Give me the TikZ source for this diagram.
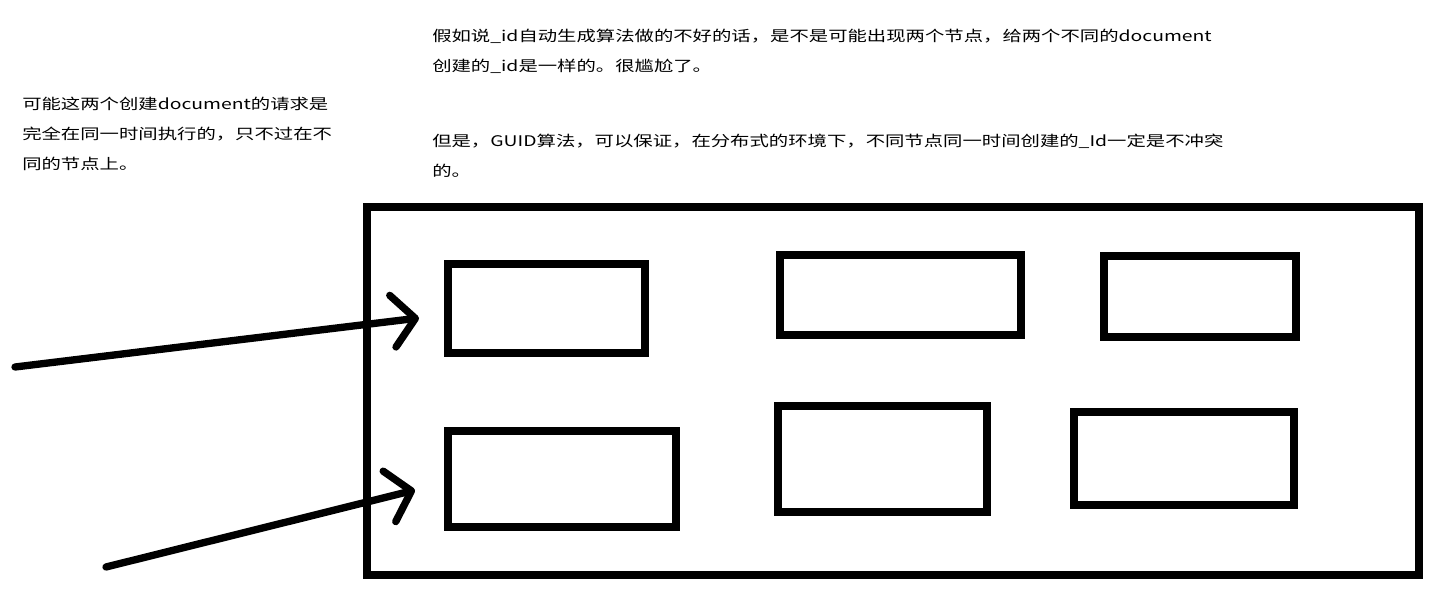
\documentclass[tikz,border=0pt]{standalone}
\usepackage{fontspec}
\setmainfont[FakeStretch=1.32]{Noto Sans CJK SC}
\usetikzlibrary{arrows.meta}
\tikzset{
	cluster/.style={
		draw
		,line width=6pt
		,inner sep=0pt
		,outer sep=0pt
	}
	,shard/.style={
		cluster
	}
	,note/.style={
		anchor=base west
		,inner sep=0pt
		,font=\fontsize{11pt}{22.5pt}\selectfont
	}
	,request/.style={
		line width=5.5pt
		,line cap=round
		,-{Straight Barb[round, length=17pt, width=39pt]}
	}
}

\begin{document}
\begin{tikzpicture}[x=0.75pt, y=-0.75pt]
\useasboundingbox (0,0) rectangle (1439,597);
% text
\node[note] (why1) at (22,109) {可能这两个创建document的请求是};
\node[note] (why2) at (22,139) {完全在同一时间执行的，只不过在不};
\node[note] (why3) at (22,169) {同的节点上。};
\node[note] (bad1) at (432,41) {假如说\_id自动生成算法做的不好的话，是不是可能出现两个节点，给两个不同的document};
\node[note] (bad2) at (432,71) {创建的\_id是一样的。很尴尬了。};
\node[note] (guid1) at (432,146) {但是，GUID算法，可以保证，在分布式的环境下，不同节点同一时间创建的\_Id一定是不冲突};
\node[note] (guid2) at (432,176) {的。};
% cluster and nodes
\node[cluster, minimum width=789pt, minimum height=276pt] (es) at (893,391) {};
\node[shard, minimum width=147.75pt, minimum height=66.75pt] (node1) at (546.5,308.5) {};
\node[shard, minimum width=171pt, minimum height=72pt] (node2) at (562,479) {};
\node[shard, minimum width=180.75pt, minimum height=60pt] (node3) at (900.5,295) {};
\node[shard, minimum width=156.75pt, minimum height=79.5pt] (node4) at (882.5,459) {};
\node[shard, minimum width=144pt, minimum height=60.75pt] (node5) at (1200,296.5) {};
\node[shard, minimum width=165pt, minimum height=69.75pt] (node6) at (1184,458.5) {};
% requests
\coordinate (req1) at (15,367);
\coordinate (req2) at (106,567);
\coordinate (tip1) at (419,318);
\coordinate (tip2) at (415,490);
\draw[request] (req1) -- (tip1);
\draw[request] (req2) -- (tip2);
\end{tikzpicture}
\end{document}
